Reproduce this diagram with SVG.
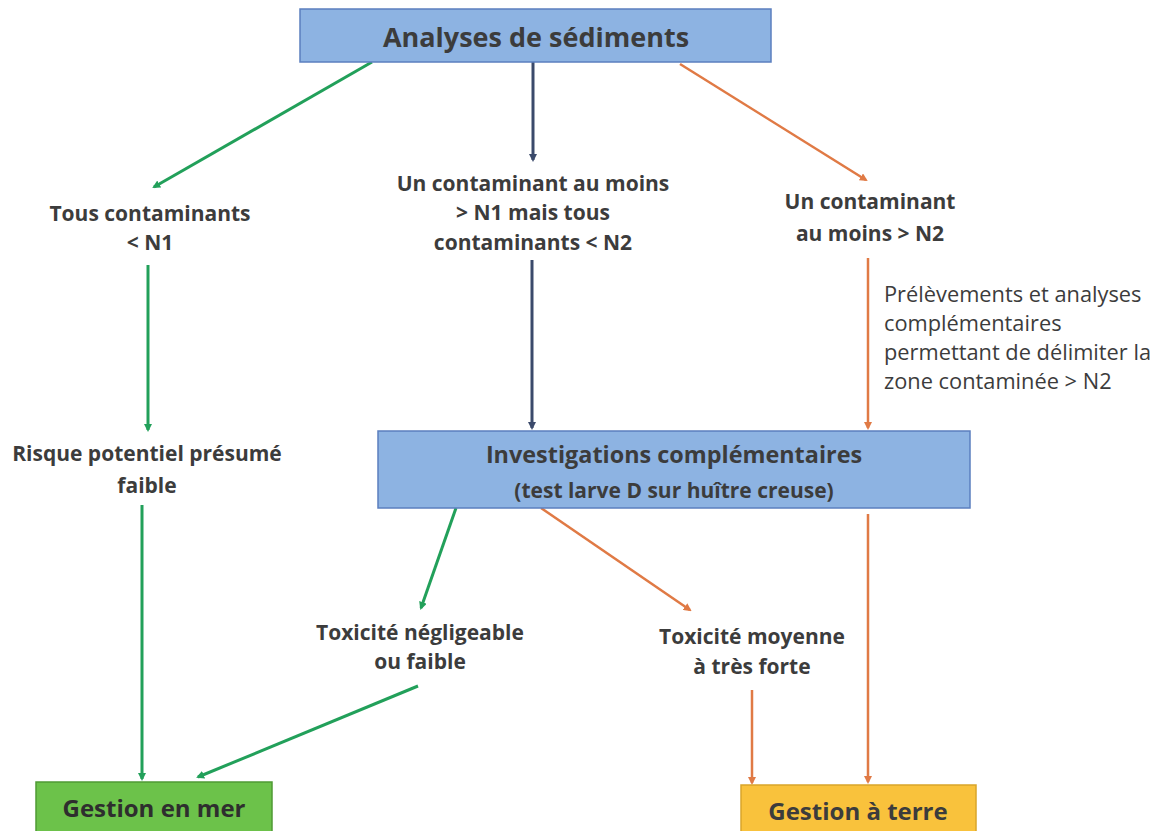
<svg xmlns="http://www.w3.org/2000/svg" width="1162" height="831" viewBox="0 0 1162 831">
<defs>
<style>
.t{font-family:"Open Sans",Lato,sans-serif;font-weight:bold;fill:#3c3c3c;text-anchor:middle;font-size:21px}
.n{font-family:"Open Sans",Lato,sans-serif;font-weight:normal;fill:#3c3c3c;font-size:21.8px}
.g{stroke:#22a05a;stroke-width:3;fill:none}
.b{stroke:#3b4a6b;stroke-width:3;fill:none}
.o{stroke:#e07a45;stroke-width:2.5;fill:none}
.bx{fill:#8db3e2;stroke:#5b7fbf;stroke-width:1.5}
</style>
<marker id="ag" markerWidth="8" markerHeight="8" refX="6" refY="4" orient="auto" markerUnits="userSpaceOnUse" viewBox="0 0 8 8"><path d="M0,0 L8,4 L0,8 z" fill="#22a05a"/></marker>
<marker id="ab" markerWidth="8" markerHeight="8" refX="6" refY="4" orient="auto" markerUnits="userSpaceOnUse" viewBox="0 0 8 8"><path d="M0,0 L8,4 L0,8 z" fill="#3b4a6b"/></marker>
<marker id="ao" markerWidth="8" markerHeight="8" refX="6" refY="4" orient="auto" markerUnits="userSpaceOnUse" viewBox="0 0 8 8"><path d="M0,0 L8,4 L0,8 z" fill="#e07a45"/></marker>
</defs>
<rect width="1162" height="831" fill="#ffffff"/>
<g id="connectors">
<line class="g" x1="372" y1="62" x2="154" y2="187" marker-end="url(#ag)"/>
<line class="b" x1="533" y1="62" x2="533" y2="160" marker-end="url(#ab)"/>
<line class="o" x1="680" y1="64" x2="866" y2="180" marker-end="url(#ao)"/>
<line class="g" x1="148" y1="265" x2="148" y2="430" marker-end="url(#ag)"/>
<line class="b" x1="532" y1="260" x2="532" y2="428" marker-end="url(#ab)"/>
<line class="o" x1="868" y1="258" x2="868" y2="428" marker-end="url(#ao)"/>
<line class="g" x1="456" y1="508" x2="421" y2="608" marker-end="url(#ag)"/>
<line class="o" x1="541" y1="508" x2="690" y2="610" marker-end="url(#ao)"/>
<line class="o" x1="868" y1="514" x2="868" y2="782" marker-end="url(#ao)"/>
<line class="g" x1="142" y1="505" x2="142" y2="779" marker-end="url(#ag)"/>
<line class="g" x1="418" y1="686" x2="198" y2="777" marker-end="url(#ag)"/>
<line class="o" x1="752" y1="690" x2="752" y2="783" marker-end="url(#ao)"/>
</g>
<g id="analyses">
<rect class="bx" x="300" y="9" width="471" height="53"/>
<text class="t" x="536" y="47" style="font-size:27px">Analyses de sédiments</text>
</g>
<g id="tous">
<text class="t" x="150" y="221">Tous contaminants</text>
<text class="t" x="150" y="250">&lt; N1</text>
</g>
<g id="un-n1">
<text class="t" x="533" y="191">Un contaminant au moins</text>
<text class="t" x="533" y="220">&gt; N1 mais tous</text>
<text class="t" x="533" y="250">contaminants &lt; N2</text>
</g>
<g id="un-n2">
<text class="t" x="870" y="209">Un contaminant</text>
<text class="t" x="870" y="241">au moins &gt; N2</text>
</g>
<g id="prelevements">
<text class="n" x="884" y="302">Prélèvements et analyses</text>
<text class="n" x="884" y="331">complémentaires</text>
<text class="n" x="884" y="360">permettant de délimiter la</text>
<text class="n" x="884" y="389">zone contaminée &gt; N2</text>
</g>
<g id="risque">
<text class="t" x="147" y="461">Risque potentiel présumé</text>
<text class="t" x="147" y="493">faible</text>
</g>
<g id="investigations">
<rect class="bx" x="378" y="431" width="592" height="77"/>
<text class="t" x="674" y="463" style="font-size:23.4px">Investigations complémentaires</text>
<text class="t" x="674" y="498" style="font-size:21px">(test larve D sur huître creuse)</text>
</g>
<g id="tox-faible">
<text class="t" x="420" y="640">Toxicité négligeable</text>
<text class="t" x="420" y="669">ou faible</text>
</g>
<g id="tox-forte">
<text class="t" x="752" y="644">Toxicité moyenne</text>
<text class="t" x="752" y="674">à très forte</text>
</g>
<g id="gestion-mer">
<rect x="36" y="782" width="236" height="52" fill="#6cc24a" stroke="#4f9a35" stroke-width="1.5"/>
<text class="t" x="154" y="817" style="font-size:24px;fill:#2e2e2e">Gestion en mer</text>
</g>
<g id="gestion-terre">
<rect x="741" y="785" width="235" height="50" fill="#f9c23c" stroke="#d9a52a" stroke-width="1.5"/>
<text class="t" x="858" y="820" style="font-size:24px">Gestion à terre</text>
</g>
</svg>
